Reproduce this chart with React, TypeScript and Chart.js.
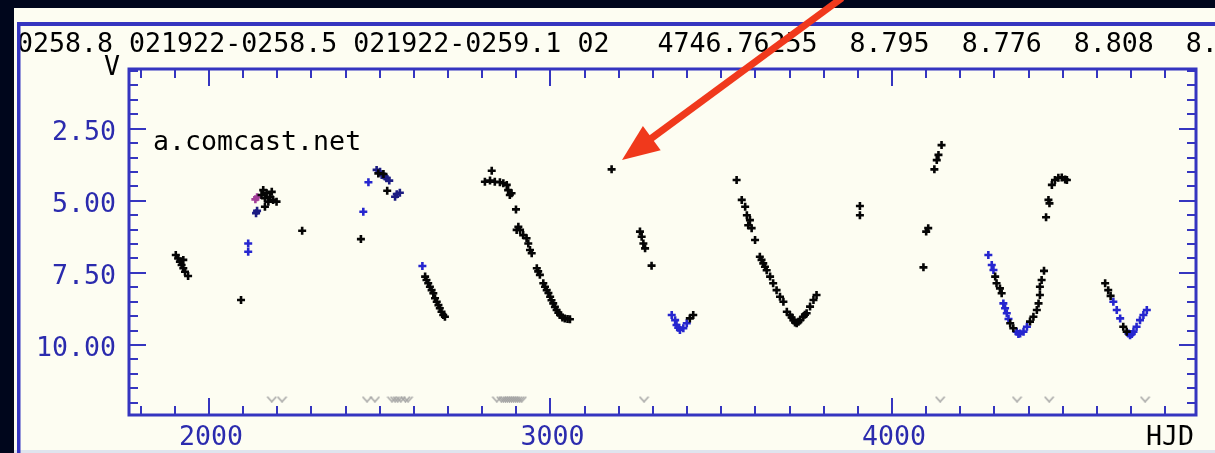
import { useEffect, useRef } from "react";
import { Chart, registerables } from "chart.js";

Chart.register(...registerables);

// Visual estimates, [HJD - 2450000, V magnitude]
const visualBlack: [number, number][] = [
  [1903, 6.88], [1910, 7.0], [1915, 7.11], [1920, 7.23], [1925, 7.05], [1925, 7.34], [1930, 7.46], [1939, 7.61],
  [2094, 8.44],
  [2154, 4.8], [2159, 4.63], [2164, 4.91], [2164, 5.21], [2169, 4.74], [2174, 5.03], [2179, 4.86], [2184, 4.69], [2188, 4.97], [2198, 5.03],
  [2273, 6.04],
  [2445, 6.33],
  [2496, 4.05], [2511, 4.07], [2522, 4.65],
  [2633, 7.63], [2637, 7.75], [2642, 7.86], [2647, 7.98], [2652, 8.1], [2657, 8.21], [2662, 8.38], [2667, 8.5], [2672, 8.62], [2676, 8.73], [2681, 8.85], [2686, 8.96], [2691, 9.02],
  [2808, 4.34], [2823, 4.3], [2828, 3.96], [2837, 4.34], [2852, 4.36], [2862, 4.39], [2872, 4.45], [2876, 4.63], [2881, 4.8], [2886, 4.74],
  [2899, 5.3], [2901, 6.01], [2906, 5.9], [2911, 6.01], [2920, 6.19], [2930, 6.3], [2935, 6.48], [2940, 6.71], [2945, 6.82],
  [2960, 7.34], [2964, 7.45], [2969, 7.57], [2979, 7.86], [2984, 7.98], [2989, 8.1], [2994, 8.2], [2999, 8.33], [3003, 8.45], [3008, 8.56], [3013, 8.68], [3018, 8.79], [3023, 8.88], [3028, 8.96], [3035, 9.05], [3042, 9.08], [3050, 9.1], [3057, 9.11],
  [3179, 3.91],
  [3262, 6.07], [3267, 6.25], [3272, 6.48], [3277, 6.65], [3296, 7.25],
  [3408, 9.08], [3418, 8.96],
  [3545, 4.28], [3560, 4.97], [3570, 5.21], [3575, 5.5], [3579, 5.85], [3584, 5.67], [3589, 5.95], [3599, 6.36],
  [3613, 6.94], [3618, 7.05], [3623, 7.17], [3628, 7.29], [3633, 7.41], [3643, 7.63], [3652, 7.86], [3662, 8.1], [3672, 8.33], [3682, 8.5],
  [3692, 8.85], [3701, 8.96], [3706, 9.05], [3711, 9.14], [3716, 9.22], [3721, 9.25], [3726, 9.2], [3731, 9.14], [3740, 9.02], [3745, 8.95],
  [3750, 8.9], [3760, 8.67], [3770, 8.44], [3779, 8.27],
  [3906, 5.18], [3906, 5.5],
  [4092, 7.31], [4100, 6.07], [4106, 5.95], [4124, 3.91], [4131, 3.59], [4136, 3.41], [4145, 3.07],
  [4302, 7.63], [4306, 7.86], [4316, 8.04], [4321, 8.21], [4346, 9.25], [4355, 9.42], [4404, 9.19], [4414, 9.02], [4424, 8.79],
  [4429, 8.56], [4433, 8.27], [4433, 7.98], [4438, 7.75], [4445, 7.43],
  [4451, 5.57], [4458, 4.97], [4461, 5.09], [4468, 4.45], [4477, 4.28], [4487, 4.2], [4497, 4.19], [4507, 4.26], [4512, 4.28],
  [4624, 7.86], [4633, 8.1], [4640, 8.3], [4677, 9.37], [4687, 9.54],
];

const visualBlue: [number, number][] = [
  [2115, 6.48], [2115, 6.77], [2452, 5.38], [2467, 4.36], [2625, 7.26],
  [3355, 8.96], [3365, 9.14], [3369, 9.31], [3374, 9.4], [3379, 9.48], [3389, 9.42], [3399, 9.25],
  [4282, 6.88], [4292, 7.23], [4297, 7.4], [4326, 8.56], [4331, 8.73], [4336, 8.9], [4341, 9.1],
  [4365, 9.54], [4370, 9.62], [4375, 9.6], [4385, 9.54], [4395, 9.37],
  [4648, 8.5], [4658, 8.79], [4668, 9.08], [4692, 9.6], [4697, 9.66], [4702, 9.62], [4707, 9.54], [4716, 9.37],
  [4726, 9.14], [4736, 8.96], [4746, 8.79],
];

const visualNavy: [number, number][] = [
  [2138, 5.43], [2141, 5.35],
  [2491, 3.93], [2501, 3.99], [2506, 4.11], [2515, 4.16], [2520, 4.22], [2528, 4.3],
  [2545, 4.86], [2550, 4.77], [2559, 4.72],
];

const visualMagenta: [number, number][] = [
  [2136, 4.95], [2141, 4.88],
];

// "Fainter than" limits, drawn as open chevrons near the faint end
const fainterThan: [number, number][] = [
  [2184, 11.88], [2214, 11.88],
  [2463, 11.88], [2486, 11.88], [2536, 11.88], [2545, 11.88], [2553, 11.88], [2562, 11.88], [2575, 11.88], [2583, 11.88],
  [2843, 11.88], [2856, 11.88], [2862, 11.88], [2868, 11.88], [2874, 11.88], [2880, 11.88], [2886, 11.88],
  [2892, 11.88], [2898, 11.88], [2904, 11.88], [2910, 11.88], [2916, 11.88],
  [3274, 11.88], [4141, 11.88], [4366, 11.88], [4460, 11.88], [4741, 11.88],
];

const yMajorTicks = [2.5, 5, 7.5, 10];
const yTickLabels = ["2.50", "5.00", "7.50", "10.00"];
const xMajorTicks = [2000, 3000, 4000];
const xTickLabels = ["2000", "3000", "4000"];

const headerLine =
  "0258.8 021922-0258.5 021922-0259.1 02   4746.76255  8.795  8.776  8.808  8.";

const NAVY = "#00061c";
const CREAM = "#fdfdf2";
const BLUE = "#3535c0";
const LABEL_BLUE = "#2b2bae";
const MONO = '26.6px "DejaVu Sans Mono"';

function chevron(color: string): HTMLCanvasElement {
  const c = document.createElement("canvas");
  c.width = 11;
  c.height = 7;
  const g = c.getContext("2d")!;
  g.strokeStyle = color;
  g.lineWidth = 1.5;
  g.beginPath();
  g.moveTo(1, 1);
  g.lineTo(5.5, 6);
  g.lineTo(10, 1);
  g.stroke();
  return c;
}

const decorPlugin = {
  id: "decor",
  beforeDraw(chart: any) {
    const { ctx, width, height } = chart;
    ctx.save();
    ctx.fillStyle = NAVY;
    ctx.fillRect(0, 0, width, height);
    ctx.fillStyle = CREAM;
    ctx.fillRect(14, 8, width - 14, height - 8);
    ctx.fillStyle = "#dfe4ee";
    ctx.fillRect(14, height - 3, width - 14, 3);

    ctx.font = MONO;
    ctx.fillStyle = "#000";
    ctx.textAlign = "left";
    ctx.textBaseline = "alphabetic";
    ctx.fillText(headerLine, 17, 51.5);

    ctx.fillStyle = BLUE;
    ctx.fillRect(17, 22, width - 17, 4);
    ctx.fillRect(17, 22, 3.5, height - 22);
    ctx.restore();
  },
  afterDatasetsDraw(chart: any) {
    const { ctx, chartArea } = chart;
    const { left, right, top, bottom } = chartArea;
    const xs = chart.scales.x;
    const ys = chart.scales.y;
    ctx.save();

    // ticks on all four sides, pointing inward
    ctx.strokeStyle = BLUE;
    ctx.lineWidth = 2;
    ctx.beginPath();
    for (let v = 5; v <= 120; v += 5) {
      const m = v / 10;
      const y = Math.round(ys.getPixelForValue(m));
      const len = v % 25 === 0 ? 17 : 9;
      ctx.moveTo(left, y);
      ctx.lineTo(left + len, y);
      ctx.moveTo(right, y);
      ctx.lineTo(right - len, y);
    }
    for (let d = 1800; d <= 4800; d += 100) {
      const x = Math.round(xs.getPixelForValue(d));
      const len = d % 1000 === 0 ? 17 : 9;
      ctx.moveTo(x, bottom);
      ctx.lineTo(x, bottom - len);
      ctx.moveTo(x, top);
      ctx.lineTo(x, top + len);
    }
    ctx.stroke();

    ctx.lineWidth = 3;
    ctx.strokeRect(left, top, right - left, bottom - top);

    // tick labels
    ctx.font = MONO;
    ctx.fillStyle = LABEL_BLUE;
    ctx.textBaseline = "alphabetic";
    ctx.textAlign = "right";
    yMajorTicks.forEach((m, i) => {
      ctx.fillText(yTickLabels[i], left - 13, ys.getPixelForValue(m) + 11);
    });
    ctx.textAlign = "center";
    xMajorTicks.forEach((d, i) => {
      ctx.fillText(xTickLabels[i], xs.getPixelForValue(d) + 2, bottom + 30);
    });

    ctx.fillStyle = "#000";
    ctx.textAlign = "right";
    ctx.fillText("HJD", right - 2, bottom + 30);
    ctx.textAlign = "center";
    ctx.fillText("V", left - 17, top + 6);
    ctx.textAlign = "left";
    ctx.fillText("a.comcast.net", 153, 150);
    ctx.restore();
  },
  afterDraw(chart: any) {
    const { ctx } = chart;
    const tail = { x: 842, y: -2 };
    const tip = { x: 622, y: 160 };
    const dx = tip.x - tail.x;
    const dy = tip.y - tail.y;
    const L = Math.hypot(dx, dy);
    const ux = dx / L;
    const uy = dy / L;
    const headLen = 37;
    const headHalf = 15;
    const bx = tip.x - ux * headLen;
    const by = tip.y - uy * headLen;
    ctx.save();
    ctx.strokeStyle = "#f0391c";
    ctx.fillStyle = "#f0391c";
    ctx.lineWidth = 7;
    ctx.beginPath();
    ctx.moveTo(tail.x, tail.y);
    ctx.lineTo(bx + ux * 4, by + uy * 4);
    ctx.stroke();
    ctx.beginPath();
    ctx.moveTo(tip.x, tip.y);
    ctx.lineTo(bx - uy * headHalf, by + ux * headHalf);
    ctx.lineTo(bx + uy * headHalf, by - ux * headHalf);
    ctx.closePath();
    ctx.fill();
    ctx.restore();
  },
};

function toPoints(rows: [number, number][]) {
  return rows.map(([x, y]) => ({ x, y }));
}

export default function App() {
  const ref = useRef<HTMLCanvasElement | null>(null);

  useEffect(() => {
    document.body.style.margin = "0";
    const canvas = ref.current;
    if (!canvas) return;
    const crossStyle = (color: string) => ({
      pointStyle: "cross" as const,
      pointRadius: 4,
      pointBorderWidth: 2.6,
      borderColor: color,
      backgroundColor: color,
      showLine: false,
    });
    const chart = new Chart(canvas, {
      type: "scatter",
      data: {
        datasets: [
          {
            label: "fainter than",
            data: toPoints(fainterThan),
            pointStyle: chevron("#a4a4a4"),
            pointRadius: 5,
            showLine: false,
          } as any,
          { label: "V", data: toPoints(visualBlack), ...crossStyle("#050505") },
          { label: "V (blue)", data: toPoints(visualBlue), ...crossStyle("#2626cf") },
          { label: "V (navy)", data: toPoints(visualNavy), ...crossStyle("#1c1c82") },
          { label: "V (magenta)", data: toPoints(visualMagenta), ...crossStyle("#a23e98") },
        ],
      },
      options: {
        responsive: false,
        animation: false,
        devicePixelRatio: 1,
        layout: { padding: { left: 129, top: 69, right: 19, bottom: 38 } },
        scales: {
          x: { type: "linear", min: 1766, max: 4890, display: false },
          y: { type: "linear", min: 0.43, max: 12.43, reverse: true, display: false },
        },
        plugins: { legend: { display: false }, tooltip: { enabled: false } },
        events: [],
      },
      plugins: [decorPlugin],
    });
    return () => chart.destroy();
  }, []);

  return <canvas ref={ref} width={1215} height={453} style={{ display: "block" }} />;
}
